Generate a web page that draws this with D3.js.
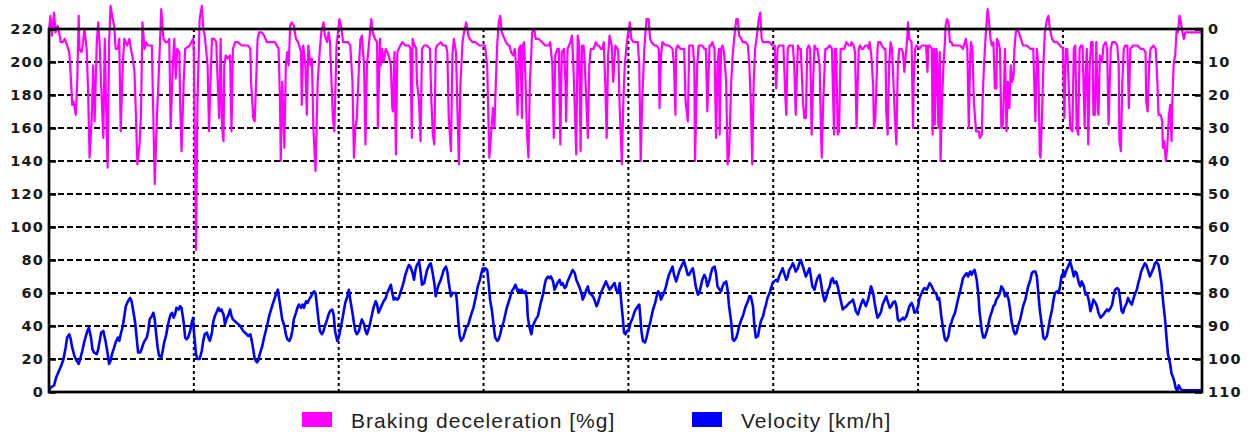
<!DOCTYPE html>
<html>
<head>
<meta charset="utf-8">
<script src="https://cdn.jsdelivr.net/npm/d3@7"></script>
<style>
  body { margin: 0; background: #fff; }
  .tick text { font-family: "DejaVu Sans", sans-serif; font-weight: bold; font-size: 14.5px; letter-spacing: 1.2px; fill: #1a1a1a; }
  .tick line { stroke: #000; stroke-width: 2.5; }
  .legend text { font-family: "Liberation Sans", Arial, sans-serif; font-size: 21px; letter-spacing: 1px; fill: #222; }
</style>
</head>
<body>
<div id="chart"></div>
<script>
// time axis [s], grid every 200 s, no labels
var timeMax = 1592;
var timeGrid = [200, 400, 600, 800, 1000, 1200, 1400];
var velocityTicks = [0, 20, 40, 60, 80, 100, 120, 140, 160, 180, 200, 220];
var brakingTicks = [0, 10, 20, 30, 40, 50, 60, 70, 80, 90, 100, 110];
var seriesNames = ["Braking deceleration [%g]", "Velocity [km/h]"];
var seriesColors = ["#ff00ff", "#0000ff"];

// [time s, braking deceleration %g] (right axis, reversed)
var brakingData = [
  [0,0],[2,-4],[4,2],[7,-5],[9,1],[12,-1],[14,1],[16,4],[19,4],[22,3],[25,5],[28,7],[30,14],[32,23],[34,22],[37,26],[39,16],[41,-4],[42,6],[45,7],[47,4],[49,0],[52,6],[54,19],[56,39],[59,27],[61,11],[63,28],[66,4],[68,-2],[70,5],[72,17],[75,33],[77,3],[79,25],[81,42],[83,4],[85,-7],[88,-3],[90,-1],[92,6],[95,6],[97,3],[99,31],[102,10],[104,3],[106,4],[108,5],[111,3],[113,6],[115,8],[118,13],[120,26],[122,41],[125,35],[127,26],[129,-2],[132,6],[134,4],[136,5],[142,5],[146,47],[149,27],[152,11],[155,-6],[158,3],[161,4],[164,4],[166,3],[168,30],[171,11],[173,3],[175,15],[177,6],[180,7],[181,22],[183,37],[186,16],[188,6],[194,5],[199,3],
  [200,7],[203,67],[205,22],[208,-3],[211,-7],[213,0],[215,2],[219,11],[221,31],[223,16],[225,3],[228,3],[231,4],[232,11],[235,27],[237,3],[239,30],[241,34],[242,11],[244,8],[247,9],[250,8],[252,31],[254,6],[257,4],[261,4],[266,5],[271,5],[275,5],[278,6],[279,16],[282,27],[284,28],[286,16],[288,3],[290,1],[294,1],[297,2],[301,4],[305,4],[312,4],[317,6],[319,22],[320,40],[322,16],[325,36],[327,11],[329,7],[331,11],[333,-1],[335,-2],[338,-1],[341,3],[344,4],[348,7],[349,23],[351,5],[354,11],[356,26],[358,5],[361,11],[363,9],[365,30],[368,43],[371,16],[374,6],[376,1],[379,-2],[381,2],[384,4],[386,1],[388,4],[392,27],[394,31],[397,5],
  [401,-3],[404,0],[406,4],[409,4],[413,4],[416,5],[419,16],[421,39],[423,30],[425,27],[428,11],[430,3],[432,2],[435,11],[437,35],[439,11],[442,4],[444,-1],[445,-3],[447,1],[450,3],[453,4],[454,30],[457,3],[458,11],[460,6],[462,10],[465,6],[467,7],[469,8],[472,11],[474,24],[475,25],[477,7],[479,38],[481,7],[483,6],[485,5],[488,4],[492,5],[497,5],[499,6],[501,33],[502,3],[505,5],[507,6],[508,16],[511,22],[513,34],[515,6],[518,5],[522,5],[526,6],[528,22],[530,32],[532,35],[534,6],[536,5],[541,4],[544,5],[548,5],[550,7],[552,27],[555,37],[557,8],[559,3],[562,7],[564,25],[566,41],[568,17],[571,4],[573,1],[576,-2],[579,2],[581,3],[585,4],[589,4],[594,5],[598,5],
  [602,5],[605,11],[607,30],[608,39],[611,30],[613,24],[615,30],[617,16],[619,4],[621,-2],[623,-4],[625,1],[629,3],[631,4],[634,5],[636,5],[638,7],[641,8],[643,6],[645,11],[647,26],[649,6],[651,5],[653,27],[654,5],[656,4],[658,16],[660,32],[662,39],[664,16],[666,7],[667,1],[670,0],[672,3],[676,3],[681,4],[685,5],[690,5],[692,4],[695,11],[697,33],[699,8],[702,6],[704,6],[706,35],[708,7],[711,6],[713,16],[714,28],[716,6],[718,5],[720,4],[722,2],[724,11],[726,24],[728,38],[730,2],[732,5],[734,37],[736,5],[738,5],[739,7],[742,22],[744,33],[746,11],[748,6],[750,6],[752,6],[755,4],[757,5],[759,5],[762,6],[764,6],[766,4],[768,16],[770,33],[772,8],[774,2],[777,5],[779,16],[782,5],[785,6],[786,7],[788,24],[791,41],[793,22],[795,11],[797,6],[799,2],
  [802,-2],[804,3],[807,4],[810,4],[813,4],[815,11],[817,40],[819,22],[822,6],[824,0],[825,-3],[828,-3],[830,3],[832,4],[836,5],[839,5],[842,6],[843,24],[845,8],[847,4],[852,5],[856,5],[861,6],[863,11],[865,26],[866,6],[868,5],[872,6],[877,6],[879,22],[882,28],[884,5],[889,5],[891,11],[892,40],[895,11],[897,5],[902,5],[905,6],[907,6],[909,25],[912,5],[914,5],[916,4],[919,6],[921,33],[923,11],[925,6],[926,32],[928,6],[930,5],[932,7],[935,16],[937,41],[939,38],[942,16],[944,8],[946,3],[949,-3],[951,-3],[953,2],[956,3],[958,4],[960,4],[962,4],[965,5],[967,11],[969,22],[971,41],[973,16],[975,6],[978,1],[980,-3],[982,-5],[984,3],[986,4],[990,4],[995,4],[999,5],
  [1002,5],[1004,18],[1006,6],[1008,5],[1012,5],[1014,5],[1017,22],[1018,26],[1020,6],[1022,5],[1027,5],[1029,11],[1031,26],[1034,5],[1036,6],[1038,6],[1041,22],[1043,27],[1045,27],[1047,6],[1049,5],[1051,6],[1053,32],[1055,16],[1057,5],[1059,6],[1061,6],[1064,11],[1066,32],[1067,39],[1069,22],[1072,6],[1074,6],[1078,5],[1081,6],[1084,32],[1085,6],[1087,6],[1089,32],[1091,31],[1093,6],[1096,6],[1098,6],[1101,4],[1104,5],[1107,5],[1108,4],[1111,5],[1113,7],[1115,30],[1118,6],[1120,5],[1122,6],[1124,6],[1127,5],[1130,5],[1132,6],[1133,4],[1135,7],[1138,17],[1139,30],[1141,27],[1144,6],[1145,4],[1148,4],[1150,5],[1153,6],[1155,6],[1156,25],[1158,32],[1160,11],[1162,4],[1164,6],[1167,22],[1168,27],[1170,35],[1172,11],[1174,6],[1177,6],[1179,7],[1181,13],[1183,8],[1185,3],[1186,-2],[1188,3],[1191,4],[1193,30],[1194,15],[1196,6],[1198,5],
  [1202,6],[1205,5],[1208,5],[1211,5],[1213,13],[1214,5],[1216,5],[1219,6],[1220,32],[1222,6],[1223,29],[1225,6],[1226,7],[1228,30],[1230,7],[1231,40],[1233,22],[1235,11],[1237,4],[1238,-1],[1240,-3],[1242,-2],[1244,4],[1246,4],[1248,5],[1253,5],[1258,5],[1262,6],[1266,3],[1268,6],[1270,30],[1272,8],[1273,4],[1275,6],[1277,22],[1280,31],[1282,31],[1284,31],[1285,33],[1288,32],[1289,22],[1291,11],[1293,3],[1295,-3],[1296,-6],[1298,-2],[1300,3],[1302,5],[1304,4],[1306,18],[1308,18],[1309,3],[1311,4],[1313,6],[1315,30],[1317,29],[1319,15],[1320,6],[1322,31],[1324,16],[1326,24],[1328,11],[1330,16],[1332,14],[1333,6],[1335,1],[1337,0],[1339,1],[1342,3],[1345,5],[1350,5],[1355,6],[1359,6],[1362,28],[1364,6],[1366,11],[1368,38],[1369,39],[1371,27],[1373,11],[1375,1],[1378,-3],[1380,-4],[1382,0],[1385,3],[1388,4],[1392,4],[1396,5],[1400,6],[1402,27],[1404,6],
  [1406,6],[1408,17],[1410,30],[1413,31],[1415,6],[1417,5],[1419,30],[1421,32],[1423,6],[1425,5],[1427,5],[1430,30],[1431,16],[1433,6],[1435,35],[1437,11],[1439,4],[1441,4],[1442,26],[1444,26],[1446,4],[1448,24],[1449,26],[1451,8],[1453,9],[1454,10],[1456,5],[1459,4],[1461,6],[1463,29],[1466,6],[1468,4],[1472,4],[1475,5],[1477,11],[1478,34],[1480,37],[1482,16],[1484,6],[1486,5],[1489,5],[1491,24],[1493,6],[1497,5],[1500,5],[1503,5],[1507,6],[1511,6],[1514,7],[1515,22],[1517,25],[1519,11],[1521,6],[1525,5],[1528,6],[1530,14],[1532,26],[1535,26],[1537,28],[1538,36],[1540,34],[1542,40],[1544,36],[1546,27],[1548,23],[1550,34],[1551,22],[1553,10],[1555,8],[1557,0],[1559,1],[1561,-4],[1562,-3],[1565,1],[1567,3],[1569,1],[1574,1],[1581,1],[1592,1]
];

// [time s, velocity km/h] (left axis)
var velocityData = [
  [0,1],[3,3],[7,4],[10,9],[14,13],[17,16],[20,20],[23,27],[25,33],[28,35],[30,32],[32,27],[35,22],[38,19],[41,17],[43,20],[46,25],[49,31],[53,37],[55,39],[58,33],[60,26],[62,24],[66,23],[68,26],[70,31],[72,36],[75,37],[77,33],[78,31],[80,26],[83,17],[85,19],[87,23],[90,27],[92,30],[95,33],[97,31],[99,35],[102,40],[104,46],[106,52],[109,55],[112,57],[114,55],[116,50],[119,42],[121,33],[123,24],[126,24],[128,26],[130,29],[132,31],[135,33],[137,37],[139,44],[142,46],[144,48],[146,44],[148,35],[150,27],[152,22],[155,21],[157,25],[159,30],[162,35],[164,40],[166,44],[168,47],[170,48],[172,45],[174,47],[176,51],[179,50],[181,52],[183,51],[186,42],[188,33],[190,32],[192,33],[195,37],[197,42],[199,45],
  [200,37],[203,23],[205,20],[208,20],[211,25],[213,31],[215,35],[218,36],[220,33],[222,31],[225,36],[227,43],[229,46],[231,48],[234,51],[236,49],[238,50],[241,47],[243,41],[245,44],[248,47],[250,50],[252,46],[254,44],[259,42],[264,40],[268,37],[273,35],[275,34],[278,35],[280,31],[282,26],[284,20],[287,18],[289,19],[291,23],[294,27],[297,33],[301,40],[304,46],[308,52],[311,56],[314,60],[316,62],[318,56],[320,50],[322,44],[325,40],[327,35],[329,32],[332,31],[334,33],[336,37],[338,44],[341,48],[343,51],[345,53],[348,51],[350,53],[352,51],[355,55],[357,54],[359,56],[362,58],[364,60],[366,61],[368,60],[370,52],[372,44],[374,37],[377,35],[379,37],[381,40],[384,44],[386,47],[388,49],[391,50],[393,47],[395,37],[398,31],
  [400,33],[402,37],[405,44],[407,49],[409,54],[412,58],[414,62],[416,56],[419,48],[421,42],[423,37],[425,35],[428,37],[430,41],[432,44],[435,41],[437,37],[439,35],[442,39],[444,43],[446,47],[448,51],[451,55],[453,53],[455,48],[458,51],[460,53],[462,55],[465,57],[467,60],[469,62],[472,65],[474,60],[476,56],[478,57],[481,56],[483,57],[485,60],[488,64],[490,67],[492,71],[495,75],[497,77],[499,76],[502,72],[504,68],[506,74],[508,77],[511,79],[513,73],[515,65],[518,66],[520,70],[522,74],[525,77],[527,78],[529,74],[532,66],[534,58],[536,62],[538,65],[541,68],[543,71],[545,74],[548,76],[550,73],[552,66],[555,58],[557,60],[559,60],[562,60],[563,56],[565,44],[567,34],[569,31],[572,33],[574,36],[576,39],[579,41],[581,44],[583,47],[586,51],[588,55],[590,59],[592,64],[595,68],[597,72],[599,75],
  [600,73],[602,75],[605,74],[607,66],[609,56],[612,48],[614,40],[616,33],[619,31],[621,32],[623,35],[625,39],[628,43],[630,47],[632,51],[635,55],[637,58],[639,61],[642,63],[644,65],[645,64],[647,61],[649,62],[651,61],[653,62],[655,60],[658,61],[660,56],[661,46],[663,40],[666,35],[668,40],[670,42],[672,44],[675,46],[677,50],[679,54],[682,59],[684,64],[686,68],[689,70],[691,69],[693,70],[696,67],[698,62],[700,64],[702,66],[705,68],[707,65],[709,66],[712,63],[714,64],[716,67],[719,70],[721,72],[723,74],[726,72],[728,68],[730,66],[732,64],[735,60],[737,56],[739,58],[742,62],[744,64],[746,60],[749,59],[751,58],[753,56],[756,52],[758,54],[760,57],[762,60],[765,63],[767,65],[769,67],[772,64],[774,62],[776,63],[779,65],[781,66],[783,62],[786,60],[788,66],[789,60],[792,46],[794,36],[796,35],[798,37],
  [800,37],[803,42],[806,45],[808,48],[810,50],[813,52],[815,53],[816,48],[818,37],[820,31],[823,30],[825,33],[827,37],[830,42],[832,46],[834,50],[837,54],[839,58],[841,61],[843,60],[845,56],[847,58],[849,60],[852,64],[854,68],[856,71],[859,74],[861,76],[863,71],[866,67],[868,70],[870,73],[872,75],[875,78],[877,79],[879,76],[882,71],[884,71],[886,73],[889,75],[891,70],[893,64],[896,59],[898,60],[900,64],[902,68],[905,71],[907,69],[909,64],[912,68],[914,72],[916,75],[919,76],[921,72],[923,64],[926,62],[928,61],[930,64],[932,66],[935,67],[937,62],[939,52],[942,42],[944,32],[946,31],[949,33],[951,36],[953,40],[956,44],[958,46],[960,49],[962,52],[965,55],[967,58],[969,58],[972,52],[974,40],[976,33],[979,34],[981,39],[983,43],[986,46],[988,50],[990,53],[992,57],[995,60],[997,63],[999,66],
  [1001,67],[1004,68],[1006,67],[1008,70],[1011,73],[1013,75],[1015,72],[1018,68],[1020,70],[1022,74],[1025,76],[1027,78],[1029,76],[1031,73],[1034,75],[1036,78],[1038,80],[1041,76],[1043,73],[1045,70],[1048,73],[1050,75],[1052,70],[1054,64],[1057,62],[1059,66],[1061,69],[1064,71],[1066,66],[1068,60],[1071,55],[1073,57],[1075,61],[1078,64],[1080,68],[1082,69],[1084,66],[1087,67],[1089,64],[1091,60],[1094,54],[1096,50],[1098,51],[1101,52],[1103,53],[1105,54],[1108,55],[1110,56],[1112,53],[1114,49],[1117,47],[1119,50],[1121,53],[1124,56],[1126,54],[1128,52],[1131,56],[1133,60],[1135,64],[1138,60],[1140,54],[1142,49],[1144,45],[1147,47],[1149,49],[1151,53],[1154,56],[1156,58],[1158,55],[1161,51],[1163,52],[1165,54],[1168,55],[1170,52],[1172,44],[1174,43],[1177,44],[1179,45],[1181,44],[1184,46],[1186,49],[1188,52],[1191,54],[1193,52],[1195,48],[1198,49],[1200,52],
  [1202,57],[1205,60],[1207,62],[1209,63],[1212,62],[1214,64],[1216,66],[1219,64],[1221,62],[1223,60],[1225,60],[1227,56],[1229,57],[1230,54],[1232,46],[1235,37],[1237,32],[1239,31],[1242,34],[1244,40],[1246,42],[1248,45],[1251,48],[1253,52],[1255,56],[1258,61],[1260,65],[1262,69],[1265,71],[1267,72],[1269,70],[1272,73],[1274,71],[1276,73],[1278,74],[1281,68],[1283,60],[1285,48],[1288,37],[1290,33],[1292,33],[1295,37],[1297,41],[1299,45],[1302,49],[1304,52],[1306,53],[1308,56],[1311,58],[1313,60],[1315,64],[1318,62],[1320,58],[1322,60],[1325,56],[1327,50],[1329,43],[1332,37],[1334,35],[1336,36],[1338,40],[1341,44],[1343,48],[1345,52],[1348,56],[1350,60],[1352,64],[1355,68],[1357,72],[1359,73],[1362,73],[1364,70],[1366,60],[1368,50],[1371,40],[1373,33],[1375,32],[1378,34],[1380,39],[1382,44],[1385,50],[1387,56],[1389,60],[1392,61],[1394,60],[1396,64],[1398,70],[1401,73],
  [1402,70],[1405,74],[1408,77],[1410,79],[1413,74],[1415,70],[1417,73],[1419,72],[1422,66],[1424,64],[1426,67],[1429,64],[1431,59],[1433,60],[1436,55],[1438,49],[1440,52],[1442,56],[1445,54],[1447,52],[1449,48],[1452,45],[1454,46],[1456,47],[1459,49],[1461,50],[1463,49],[1466,51],[1468,53],[1470,58],[1472,62],[1475,63],[1477,62],[1479,56],[1481,49],[1483,48],[1485,51],[1488,54],[1490,57],[1492,55],[1495,53],[1497,56],[1499,59],[1502,62],[1504,66],[1506,69],[1508,73],[1511,76],[1513,78],[1515,77],[1518,73],[1520,70],[1522,72],[1525,75],[1527,78],[1529,79],[1532,77],[1534,72],[1536,66],[1538,56],[1541,44],[1543,33],[1545,23],[1548,17],[1550,11],[1552,9],[1554,6],[1556,2],[1558,1],[1560,4],[1562,2],[1565,1],[1569,1],[1592,1]
];

var svgWidth = 1251;
var svgHeight = 434;
var margin = { top: 29, right: 49, bottom: 42, left: 49 };
var width = svgWidth - margin.left - margin.right;
var height = svgHeight - margin.top - margin.bottom;

var svg = d3.select("#chart")
  .append("svg")
  .attr("width", svgWidth)
  .attr("height", svgHeight);

var chartGroup = svg.append("g")
  .attr("transform", `translate(${margin.left}, ${margin.top})`);

var xScale = d3.scaleLinear().domain([0, timeMax]).range([0, width]);
var yLeft = d3.scaleLinear().domain([0, 220]).range([height, 0]);
var yRight = d3.scaleLinear().domain([0, 110]).range([0, height]);

// grid lines
chartGroup.append("g")
  .selectAll("line")
  .data(velocityTicks.slice(1, -1))
  .enter()
  .append("line")
  .attr("x1", 0)
  .attr("x2", width)
  .attr("y1", d => yLeft(d))
  .attr("y2", d => yLeft(d))
  .attr("stroke", "#000")
  .attr("stroke-width", 2)
  .attr("stroke-dasharray", "6,3");

chartGroup.append("g")
  .selectAll("line")
  .data(timeGrid)
  .enter()
  .append("line")
  .attr("x1", d => xScale(d))
  .attr("x2", d => xScale(d))
  .attr("y1", 0)
  .attr("y2", height)
  .attr("stroke", "#000")
  .attr("stroke-width", 2)
  .attr("stroke-dasharray", "3,3");

// lines
var brakingLine = d3.line()
  .x(d => xScale(d[0]))
  .y(d => yRight(d[1]));

var velocityLine = d3.line()
  .x(d => xScale(d[0]))
  .y(d => yLeft(d[1]));

chartGroup.append("path")
  .datum(brakingData)
  .attr("d", brakingLine)
  .attr("fill", "none")
  .attr("stroke", seriesColors[0])
  .attr("stroke-width", 2.2)
  .attr("stroke-linejoin", "round");

chartGroup.append("path")
  .datum(velocityData)
  .attr("d", velocityLine)
  .attr("fill", "none")
  .attr("stroke", seriesColors[1])
  .attr("stroke-width", 2.6)
  .attr("stroke-linejoin", "round");

// frame
chartGroup.append("rect")
  .attr("width", width)
  .attr("height", height)
  .attr("fill", "none")
  .attr("stroke", "#000")
  .attr("stroke-width", 2.7);

// axes: short inward ticks and labels
var leftAxis = d3.axisLeft(yLeft).tickValues(velocityTicks).tickSizeInner(-7).tickSizeOuter(0).tickPadding(5);
var rightAxis = d3.axisRight(yRight).tickValues(brakingTicks).tickSizeInner(-7).tickSizeOuter(0).tickPadding(6);

chartGroup.append("g").call(leftAxis).call(g => g.select(".domain").remove());
chartGroup.append("g")
  .attr("transform", `translate(${width}, 0)`)
  .call(rightAxis)
  .call(g => g.select(".domain").remove());

// legend
var legend = svg.append("g").attr("class", "legend");
var legendX = [302, 692];
seriesNames.forEach(function(name, i) {
  legend.append("rect")
    .attr("x", legendX[i])
    .attr("y", 412)
    .attr("width", 30)
    .attr("height", 15)
    .attr("fill", seriesColors[i]);
  legend.append("text")
    .attr("x", legendX[i] + 49)
    .attr("y", 428)
    .text(name);
});
</script>
</body>
</html>
